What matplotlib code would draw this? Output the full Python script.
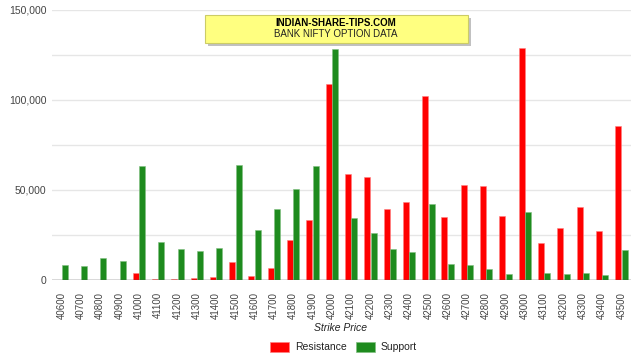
import matplotlib
matplotlib.use('Agg')
import matplotlib.pyplot as plt
from matplotlib.patches import FancyBboxPatch, Rectangle
from matplotlib.ticker import FuncFormatter, MultipleLocator
import numpy as np

plt.rcParams['font.family'] = ['Liberation Sans', 'DejaVu Sans']

strikes = ['40600', '40700', '40800', '40900', '41000', '41100', '41200', '41300',
           '41400', '41500', '41600', '41700', '41800', '41900', '42000', '42100',
           '42200', '42300', '42400', '42500', '42600', '42700', '42800', '42900',
           '43000', '43100', '43200', '43300', '43400', '43500']

resistance = [0, 0, 0, 0, 3600, 200, 500, 1000, 1400, 9900, 2100, 6400, 21900, 33200,
              108400, 58400, 56800, 39000, 43000, 102100, 34700, 52500, 51900, 35100,
              128600, 20300, 28400, 40500, 26900, 85300]

support = [7900, 7500, 11900, 10300, 63000, 20700, 17100, 15800, 17700, 63400, 27300,
           39000, 50300, 63000, 128000, 34200, 25700, 17100, 15300, 42100, 8600, 8200,
           5800, 3100, 37700, 3400, 3100, 3800, 2500, 16400]

red = '#ff0000'
green = '#1e8b1e'
grey = '#444444'

fig = plt.figure(figsize=(6.4, 3.58), dpi=100)
ax = fig.add_axes([52 / 640, 78.5 / 358, 579 / 640, 270 / 358])

x = np.arange(len(strikes))
w = 0.31
ax.bar(x - w / 2 - 0.01, resistance, w, color=red, edgecolor='#ff8080', linewidth=0.4, zorder=3)
ax.bar(x + w / 2 + 0.01, support, w, color=green, edgecolor='#80c080', linewidth=0.4, zorder=3)

ax.set_xlim(-0.5, len(strikes) - 0.5)
ax.set_ylim(0, 150000)

# gridlines every 25k, labels every 50k
ax.yaxis.set_major_locator(MultipleLocator(50000))
ax.yaxis.set_minor_locator(MultipleLocator(25000))
ax.yaxis.set_major_formatter(FuncFormatter(lambda v, p: '{:,.0f}'.format(v)))
ax.grid(axis='y', which='both', color='#e6e6e6', linewidth=1, zorder=0)
ax.axhline(0, color='#555555', linewidth=1, zorder=4)

for s in ax.spines.values():
    s.set_visible(False)

ax.tick_params(axis='y', which='both', length=0, labelsize=7.5, labelcolor=grey, pad=4)
ax.set_xticks(x)
ax.set_xticklabels(strikes, rotation=90, fontsize=7, color=grey)
ax.tick_params(axis='x', length=0, pad=9)

fig.text(340 / 640, 1 - 328 / 358, 'Strike Price', ha='center', va='center',
         fontsize=7.5, style='italic', color='#222222')

# title box
box = FancyBboxPatch((205, 358 - 43), 263, 28, boxstyle='square,pad=0',
                     transform=None, facecolor='#ffff80', edgecolor='#cccc66',
                     linewidth=0.8, zorder=10)
shadow = Rectangle((208, 358 - 46), 263, 28, transform=None,
                   facecolor='#999999', alpha=0.6, zorder=9)
fig.patches.extend([shadow, box])
fig.text(336 / 640, 1 - 23 / 358, 'INDIAN-SHARE-TIPS.COM', ha='center', va='center',
         fontsize=7, fontweight='bold', color='black', zorder=11)
fig.text(336 / 640, 1 - 34 / 358, 'BANK NIFTY OPTION DATA', ha='center', va='center',
         fontsize=7, color='#222222', zorder=11)

# legend
fig.patches.append(Rectangle((270, 358 - 352), 19, 10, transform=None,
                             facecolor=red, edgecolor='#ff8080', linewidth=0.5))
fig.text(295 / 640, 1 - 347 / 358, 'Resistance', ha='left', va='center',
         fontsize=7.5, color='#222222')
fig.patches.append(Rectangle((356, 358 - 352), 19, 10, transform=None,
                             facecolor=green, edgecolor='#80c080', linewidth=0.5))
fig.text(381 / 640, 1 - 347 / 358, 'Support', ha='left', va='center',
         fontsize=7.5, color='#222222')

fig.savefig('out.png', dpi=100)
